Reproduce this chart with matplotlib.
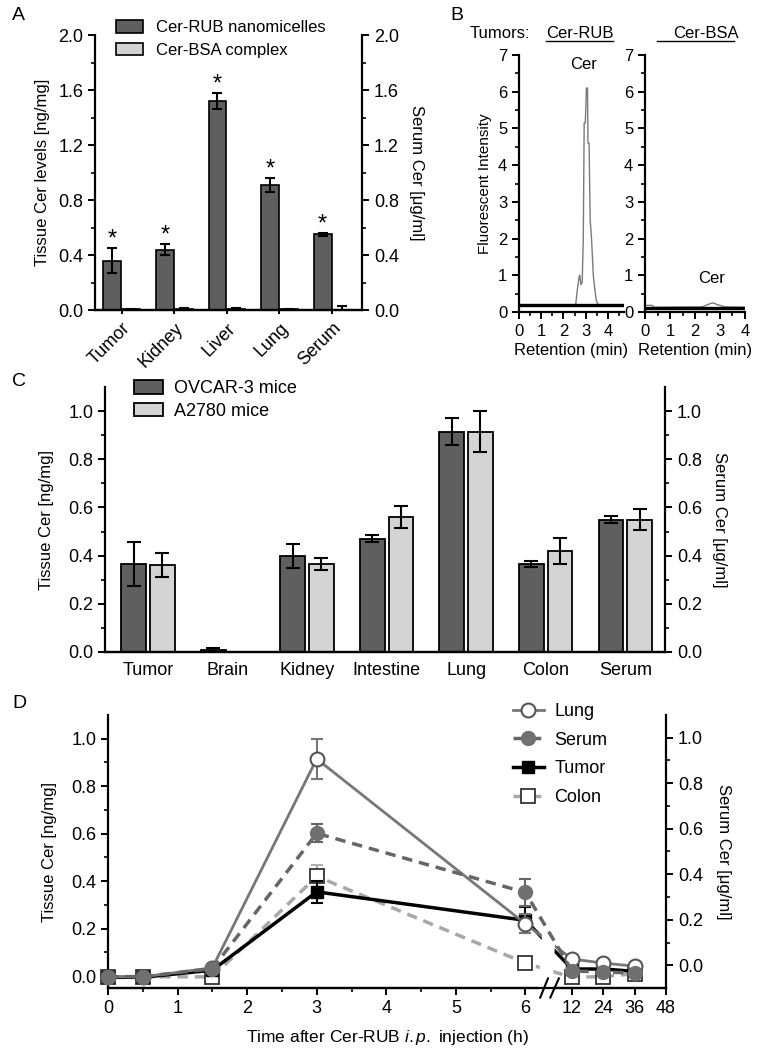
import matplotlib
matplotlib.use('Agg')
import matplotlib.pyplot as plt
import numpy as np
from matplotlib import font_manager
from matplotlib.patches import Patch, Polygon
from matplotlib.lines import Line2D
import matplotlib.transforms as mtrans

names = {f.name for f in font_manager.fontManager.ttflist}
NARROW = 'Liberation Sans Narrow' if 'Liberation Sans Narrow' in names else 'Liberation Sans'

plt.rcParams['font.family'] = ['Liberation Sans', 'DejaVu Sans']
plt.rcParams['mathtext.fontset'] = 'custom'
plt.rcParams['mathtext.it'] = NARROW + ':italic'
plt.rcParams['mathtext.rm'] = NARROW

# ---------------- data ----------------
# A: Cer levels 3h after i.p.
organs_a = ['Tumor', 'Kidney', 'Liver', 'Lung', 'Serum']
rub_a = [0.36, 0.44, 1.52, 0.91, 0.55]
rub_a_err = [0.09, 0.04, 0.06, 0.05, 0.01]
bsa_a = [0.005, 0.01, 0.008, 0.004, 0.0]
bsa_a_err = [0.002, 0.004, 0.003, 0.002, 0.03]

# B: HPLC chromatograms
ret_rub = [0, 2.55, 2.62, 2.70, 2.73, 2.78, 2.84, 2.89, 2.93, 2.98, 3.03, 3.08,
           3.10, 3.15, 3.20, 3.26, 3.34, 3.41, 3.48, 3.56, 4.72]
int_rub = [0.2, 0.2, 0.6, 0.95, 1.0, 0.75, 0.8, 2.0, 5.15, 5.15, 6.1, 6.1,
           4.6, 4.6, 2.5, 2.0, 1.0, 0.6, 0.3, 0.2, 0.2]
base_rub = 0.2
ret_bsa = [0, 0.05, 0.3, 0.35, 2.3, 2.5, 2.7, 2.9, 3.2, 4.0]
int_bsa = [0.16, 0.18, 0.18, 0.13, 0.14, 0.2, 0.25, 0.2, 0.14, 0.13]
base_bsa = 0.12

# C: two tumor models
organs_c = ['Tumor', 'Brain', 'Kidney', 'Intestine', 'Lung', 'Colon', 'Serum']
ovcar = [0.365, 0.01, 0.40, 0.47, 0.915, 0.365, 0.55]
ovcar_err = [0.09, 0.008, 0.05, 0.015, 0.055, 0.012, 0.013]
a2780 = [0.36, np.nan, 0.365, 0.56, 0.915, 0.42, 0.55]
a2780_err = [0.05, np.nan, 0.025, 0.045, 0.085, 0.055, 0.045]

# D: time course
time_h = [0, 0.5, 1.5, 3, 6, 12, 24, 36]
lung = [-0.003, -0.003, 0.035, 0.915, 0.22, 0.072, 0.055, 0.042]
lung_err = [0.005, 0.005, 0.008, 0.085, 0.04, 0.01, 0.01, 0.01]
tumor = [-0.005, -0.005, 0.025, 0.355, 0.235, 0.03, 0.03, 0.02]
tumor_err = [0.005, 0.005, 0.006, 0.045, 0.055, 0.01, 0.01, 0.01]
colon = [-0.005, -0.003, -0.003, 0.42, 0.055, -0.005, -0.002, 0.01]
colon_err = [0.004, 0.004, 0.004, 0.05, 0.01, 0.005, 0.005, 0.005]
serum = [-0.05, -0.05, -0.015, 0.58, 0.32, -0.025, -0.03, -0.034]  # right axis
serum_err = [0.005, 0.005, 0.005, 0.04, 0.06, 0.01, 0.01, 0.01]

DARK = '#5f5f5f'
LIGHT = '#d4d4d4'
W, H = 758, 1050

fig = plt.figure(figsize=(W / 100, H / 100), dpi=100)


def box(l, t, r, b):
    return fig.add_axes([l / W, 1 - b / H, (r - l) / W, (b - t) / H])


def style(ax, right=False):
    ax.spines['top'].set_visible(False)
    if not right:
        ax.spines['right'].set_visible(False)
    for s in ax.spines.values():
        s.set_linewidth(1.6)
    ax.tick_params(which='major', direction='out', length=5, width=1.4)
    ax.tick_params(which='minor', direction='out', length=3, width=1.2)


# ================= A =================
axA = box(95, 35, 362, 310)
style(axA)
xa = np.arange(len(organs_a))
ekw = dict(elinewidth=1.5, capthick=1.5, ecolor='black')
axA.bar(xa - 0.18, rub_a, 0.34, color=DARK, edgecolor='black', lw=1.2,
        yerr=rub_a_err, capsize=3.5, error_kw=ekw)
axA.bar(xa + 0.18, bsa_a, 0.34, color=LIGHT, edgecolor='black', lw=1.2,
        yerr=bsa_a_err, capsize=3.5, error_kw=ekw)
for i in range(len(organs_a)):
    axA.text(xa[i] - 0.18, rub_a[i] + rub_a_err[i] - 0.02, '*', ha='center',
             va='bottom', fontsize=17)
axA.set_xlim(-0.51, 4.57)
axA.set_ylim(0, 2.0)
axA.set_yticks(np.arange(0, 2.01, 0.4))
axA.set_yticks(np.arange(0.2, 2.0, 0.4), minor=True)
axA.yaxis.set_major_formatter(matplotlib.ticker.FormatStrFormatter('%.1f'))
axA.set_xticks(xa)
axA.set_xticklabels(organs_a, rotation=45, ha='right', rotation_mode='anchor',
                    fontsize=13)
axA.tick_params(axis='x', length=3, pad=4)
axA.tick_params(axis='y', labelsize=13)
axA.set_ylabel('Tissue Cer levels [ng/mg]', fontsize=12, labelpad=6)
axA2 = axA.twinx()
style(axA2, right=True)
axA2.spines['left'].set_visible(False)
axA2.set_ylim(0, 2.0)
axA2.set_yticks(np.arange(0, 2.01, 0.4))
axA2.set_yticks(np.arange(0.2, 2.0, 0.4), minor=True)
axA2.yaxis.set_major_formatter(matplotlib.ticker.FormatStrFormatter('%.1f'))
axA2.tick_params(axis='y', labelsize=13)
axA2.set_ylabel('Serum Cer [\u03bcg/ml]', rotation=270, fontsize=12, labelpad=18)
axA.legend([Patch(facecolor=DARK, edgecolor='black', lw=1.2),
            Patch(facecolor=LIGHT, edgecolor='black', lw=1.2)],
           ['Cer-RUB nanomicelles', 'Cer-BSA complex'],
           loc='upper left', bbox_to_anchor=(116 / W, 1 - 20 / H),
           bbox_transform=fig.transFigure, frameon=False, fontsize=12,
           handlelength=1.6, handleheight=0.8, borderpad=0, borderaxespad=0,
           labelspacing=0.45, handletextpad=0.8)
fig.text(12 / W, 1 - 16 / H, 'A', fontsize=14, va='center')

# ================= B =================
axB1 = box(519, 55, 624, 312)
axB2 = box(645, 55, 745, 312)
for ax, xr, x, y, base in [(axB1, 4.72, ret_rub, int_rub, base_rub),
                           (axB2, 4.0, ret_bsa, int_bsa, base_bsa)]:
    style(ax)
    ax.plot(x, y, color='#7a7a7a', lw=1.0)
    ax.axhline(base, color='black', lw=2.4)
    ax.set_xlim(0, xr)
    ax.set_ylim(0, 7)
    ax.set_yticks(range(0, 8))
    ax.set_yticks(np.arange(0.5, 7, 1), minor=True)
    ax.set_xticks(range(0, 5))
    ax.set_xticks(np.arange(0.5, xr, 0.5), minor=True)
    ax.tick_params(labelsize=12)
    ax.set_xlabel('Retention (min)', fontsize=12, labelpad=3)
axB1.set_ylabel('Fluorescent Intensity', fontsize=11, labelpad=4)
axB1.text(2.88, 6.75, 'Cer', ha='center', va='center', fontsize=12)
axB2.text(2.68, 0.9, 'Cer', ha='center', va='center', fontsize=12)
fig.text(470 / W, 1 - 33 / H, 'Tumors:', fontsize=12, va='center')
fig.text(546 / W, 1 - 33 / H, 'Cer-RUB', fontsize=12, va='center')
fig.text(673 / W, 1 - 33 / H, 'Cer-BSA', fontsize=12, va='center')
fig.add_artist(Line2D([546 / W, 613 / W], [1 - 41 / H] * 2, color='black', lw=1))
fig.add_artist(Line2D([657 / W, 734 / W], [1 - 41 / H] * 2, color='black', lw=1))
fig.text(450 / W, 1 - 16 / H, 'B', fontsize=14, va='center')

# ================= C =================
axC = box(105, 387, 665, 652)
style(axC)
xc = np.arange(len(organs_c))
axC.bar(xc - 0.18, ovcar, 0.31, color=DARK, edgecolor='black', lw=1.3,
        yerr=ovcar_err, capsize=5, error_kw=ekw)
axC.bar(xc + 0.18, a2780, 0.31, color=LIGHT, edgecolor='black', lw=1.3,
        yerr=a2780_err, capsize=5, error_kw=ekw)
axC.set_xlim(-0.54, 6.5)
axC.set_ylim(0, 1.1)
axC.set_yticks(np.arange(0, 1.01, 0.2))
axC.set_yticks(np.arange(0.1, 1.1, 0.2), minor=True)
axC.yaxis.set_major_formatter(matplotlib.ticker.FormatStrFormatter('%.1f'))
axC.set_xticks(xc)
axC.set_xticklabels(organs_c, family=[NARROW, 'Liberation Sans'], fontsize=13)
for lab in axC.get_yticklabels():
    lab.set_family([NARROW, 'Liberation Sans'])
    lab.set_fontsize(13)
axC.tick_params(axis='x', length=0, pad=7)
axC.set_ylabel('Tissue Cer [ng/mg]', fontsize=12, labelpad=10)
axC2 = axC.twinx()
style(axC2, right=True)
axC2.spines['left'].set_visible(False)
axC2.set_ylim(0, 1.1)
axC2.set_yticks(np.arange(0, 1.01, 0.2))
axC2.set_yticks(np.arange(0.1, 1.1, 0.2), minor=True)
axC2.yaxis.set_major_formatter(matplotlib.ticker.FormatStrFormatter('%.1f'))
for lab in axC2.get_yticklabels():
    lab.set_family([NARROW, 'Liberation Sans'])
    lab.set_fontsize(13)
axC2.set_ylabel('Serum Cer [\u03bcg/ml]', rotation=270, fontsize=12, labelpad=18)
axC.legend([Patch(facecolor=DARK, edgecolor='black', lw=1.3),
            Patch(facecolor=LIGHT, edgecolor='black', lw=1.3)],
           ['OVCAR-3 mice', 'A2780 mice'],
           loc='upper left', bbox_to_anchor=(134 / W, 1 - 380 / H),
           bbox_transform=fig.transFigure, frameon=False,
           prop={'family': NARROW, 'size': 13},
           handlelength=1.6, handleheight=0.8, borderpad=0, borderaxespad=0,
           labelspacing=0.3, handletextpad=0.6)
fig.text(12 / W, 1 - 381 / H, 'C', fontsize=14, va='center')

# ================= D =================


def fwd(t):
    t = np.asarray(t, dtype=float)
    return np.where(t <= 6, t,
                    np.where(t <= 12, 6 + (t - 6) * 0.67 / 6,
                             6.67 + (t - 12) * 0.0375))


def inv(u):
    u = np.asarray(u, dtype=float)
    return np.where(u <= 6, u,
                    np.where(u <= 6.67, 6 + (u - 6) * 6 / 0.67,
                             12 + (u - 6.67) / 0.0375))


axD = box(108, 715, 666, 988)
style(axD)
axD.set_xscale('function', functions=(fwd, inv))
axD2 = axD.twinx()
style(axD2, right=True)
axD2.spines['left'].set_visible(False)

st_lung = dict(color='#777777', lw=2, marker='o', ms=10, mfc='white',
               mec='#555555', mew=1.5)
st_tumor = dict(color='black', lw=2.5, marker='s', ms=9, mfc='black', mec='black')
st_colon = dict(color='#a8a8a8', lw=2.5, marker='s', ms=10, ls=(0, (3, 2)),
                mfc='white', mec='#333333', mew=1.3)
st_serum = dict(color='#666666', lw=2.5, marker='o', ms=10, ls=(0, (3, 2)),
                mfc='#707070', mec='#707070')
eb = dict(capsize=4, capthick=1.5, elinewidth=1.5, clip_on=False)

axD.errorbar(time_h, lung, yerr=lung_err, zorder=4, **st_lung, **eb)
axD.errorbar(time_h, tumor, yerr=tumor_err, zorder=3, **st_tumor, **eb)
axD.errorbar(time_h, colon, yerr=colon_err, zorder=2, **st_colon, **eb)
axD2.errorbar(time_h, serum, yerr=serum_err, zorder=2, **st_serum, **eb)

axD.set_xlim(0, 48)
axD.set_ylim(-0.05, 1.1)
axD2.set_ylim(-0.1, 1.1)
axD.set_xticks([0, 1, 2, 3, 4, 5, 6, 12, 24, 36, 48])
axD.set_xticklabels(['0', '1', '2', '3', '4', '5', '6', '12', '24', '36', '48'])
axD.set_xticks([0.5, 1.5, 2.5, 3.5, 4.5, 5.5], minor=True)
for ax in (axD, axD2):
    ax.set_yticks(np.arange(0, 1.01, 0.2))
    ax.set_yticks(np.arange(0.1, 1.1, 0.2), minor=True)
    ax.yaxis.set_major_formatter(matplotlib.ticker.FormatStrFormatter('%.1f'))
for lab in axD.get_xticklabels() + axD.get_yticklabels() + axD2.get_yticklabels():
    lab.set_family([NARROW, 'Liberation Sans'])
    lab.set_fontsize(13)
axD.set_xlabel('Time after Cer-RUB $\\mathit{i.p.}$ injection (h)',
               family=[NARROW, 'Liberation Sans'], fontsize=12.5, labelpad=8)
axD.set_ylabel('Tissue Cer [ng/mg]', fontsize=12, labelpad=10)
axD2.set_ylabel('Serum Cer [\u03bcg/ml]', rotation=270, fontsize=12, labelpad=20)

# axis break
bt = mtrans.blended_transform_factory(axD.transData, axD.transAxes)
axD.add_patch(Polygon([[7.6, -0.03], [9.4, -0.03], [10.2, 0.35], [8.5, 0.35]],
                      closed=True, transform=bt, facecolor='white',
                      edgecolor='none', zorder=10, clip_on=False))
for x0, x1 in [(7.9, 8.9), (9.2, 10.3)]:
    axD.plot([x0, x1], [-0.035, 0.035], transform=bt, color='black', lw=1.5,
             clip_on=False, zorder=11)

handles = [Line2D([], [], **st_lung), Line2D([], [], **st_serum),
           Line2D([], [], **st_tumor), Line2D([], [], **st_colon)]
axD.legend(handles, ['Lung', 'Serum', 'Tumor', 'Colon'],
           loc='upper left', bbox_to_anchor=(513 / W, 1 - 703 / H),
           bbox_transform=fig.transFigure, frameon=False,
           prop={'family': NARROW, 'size': 13}, handlelength=1.7,
           borderpad=0, borderaxespad=0, labelspacing=0.65, handletextpad=0.6)
fig.text(12 / W, 1 - 703 / H, 'D', fontsize=14, va='center')

fig.savefig('out.png', dpi=100)
